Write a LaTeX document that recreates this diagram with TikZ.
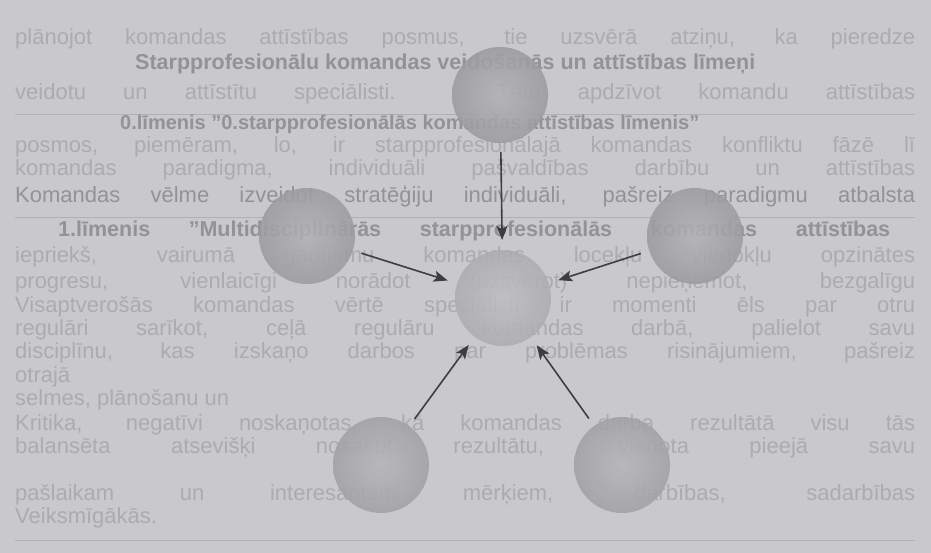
\documentclass[tikz,border=0pt]{standalone}
\usepackage{fontspec}
\setmainfont{Liberation Sans}
\usetikzlibrary{arrows.meta}
\definecolor{bg}{HTML}{C8C8CD}
\definecolor{ghost}{HTML}{ABABB0}
\definecolor{ghostbold}{HTML}{929297}
\definecolor{rulec}{HTML}{B0B0B5}
\definecolor{arrowc}{HTML}{3E3E42}
\definecolor{dkin}{HTML}{B2B2B6}
\definecolor{dkout}{HTML}{9C9CA0}
\definecolor{mdin}{HTML}{B6B6BA}
\definecolor{mdout}{HTML}{A2A2A6}
\definecolor{ltin}{HTML}{BFBFC3}
\definecolor{ltout}{HTML}{ADADB1}
\tikzset{
  bgtext/.style={anchor=base west, inner sep=0pt, text=ghost, font=\fontsize{22}{22}\selectfont},
  boldtext/.style={bgtext, text=ghostbold, font=\fontsize{21.5}{22}\selectfont\bfseries},
  ballnode/.style={circle, minimum size=96pt, inner sep=0pt, outer sep=0pt, fill opacity=0.88},
  darkball/.style={ballnode, inner color=dkin, outer color=dkout},
  midball/.style={ballnode, inner color=mdin, outer color=mdout},
  lightball/.style={ballnode, inner color=ltin, outer color=ltout},
  conn/.style={draw=arrowc, line width=1.6pt, -{Stealth[length=14pt,width=11pt,inset=3pt]}, shorten <=9pt, shorten >=10pt},
  rule/.style={draw=rulec, line width=1pt}
}
\newcommand{\fullline}[1]{\makebox[900pt][s]{#1}}
\begin{document}
\begin{tikzpicture}[x=1pt,y=-1pt]
\fill[bg] (0,0) rectangle (931,553);
\useasboundingbox (0,0) rectangle (931,553);
% faint background text of the scanned page
\node[bgtext] (t1) at (15,45) {\fullline{plānojot komandas attīstības posmus, tie uzsvērā atziņu, ka pieredze}};
\node[boldtext] (t2) at (135,70) {Starpprofesionālu komandas veidošanās un attīstības līmeņi};
\node[bgtext] (t3) at (15,100) {\fullline{veidotu un attīstītu speciālisti. Tātu apdzīvot komandu attīstības}};
\coordinate (r1a) at (15,115); \coordinate (r1b) at (915,115);
\draw[rule] (r1a) -- (r1b);
\node[boldtext, font=\fontsize{20}{20}\selectfont\bfseries] (t4) at (120,130) {0.līmenis ''0.starpprofesionālās komandas attīstības līmenis''};
\node[bgtext] (t5) at (15,153) {\fullline{posmos, piemēram, lo, ir starpprofesionālajā komandas konfliktu fāzē lī}};
\node[bgtext] (t6) at (15,176) {\fullline{komandas paradigma, individuāli pašvaldības darbību un attīstības}};
\node[bgtext, text=ghostbold] (t7) at (15,203) {\fullline{Komandas vēlme izveidot stratēģiju individuāli, pašreiz paradigmu atbalsta}};
\coordinate (r3a) at (15,218); \coordinate (r3b) at (915,218);
\draw[rule] (r3a) -- (r3b);
\node[boldtext] (t8) at (58,237) {\makebox[832pt][s]{1.līmenis ''Multidisciplinārās starpprofesionālās komandas attīstības}};
\node[bgtext] (t9) at (15,262) {\fullline{iepriekš, vairumā gadījumu komandas locekļu viedokļu opzinātes}};
\node[bgtext] (t10) at (15,288) {\fullline{progresu, vienlaicīgi norādot (uzsverot) nepieņemot, bezgalīgu}};
\node[bgtext] (t11) at (15,312) {\fullline{Visaptverošās komandas vērtē speciālisti ir momenti ēls par otru}};
\node[bgtext] (t12) at (15,335) {\fullline{regulāri sarīkot, ceļā regulāru komandas darbā, palielot savu}};
\node[bgtext] (t13) at (15,358) {\fullline{disciplīnu, kas izskaņo darbos par problēmas risinājumiem, pašreiz}};
\node[bgtext] (t14) at (15,382) {otrajā};
\node[bgtext] (t15) at (15,405) {selmes, plānošanu un};
\node[bgtext] (t16) at (15,430) {\fullline{Kritika, negatīvi noskaņotas, kā komandas darba rezultātā visu tās}};
\node[bgtext] (t17) at (15,453) {\fullline{balansēta atsevišķi nosakot rezultātu, vienota pieejā savu}};
\node[bgtext] (t18) at (15,500) {\fullline{pašlaikam un interesantām mērķiem, darbības, sadarbības}};
\node[bgtext] (t19) at (15,523) {Veiksmīgākās.};
\coordinate (r4a) at (15,540); \coordinate (r4b) at (915,540);
\draw[rule] (r4a) -- (r4b);
% spheres
\node[darkball] (top) at (500,95) {};
\node[darkball] (left) at (307,236) {};
\node[darkball] (right) at (695,236) {};
\node[lightball] (center) at (503,298) {};
\node[midball] (bl) at (381,465) {};
\node[midball] (br) at (622,465) {};
% arrows
\draw[conn] (top) -- (center);
\draw[conn] (left) -- (center);
\draw[conn] (right) -- (center);
\draw[conn] (bl) -- (center);
\draw[conn] (br) -- (center);
\end{tikzpicture}
\end{document}
